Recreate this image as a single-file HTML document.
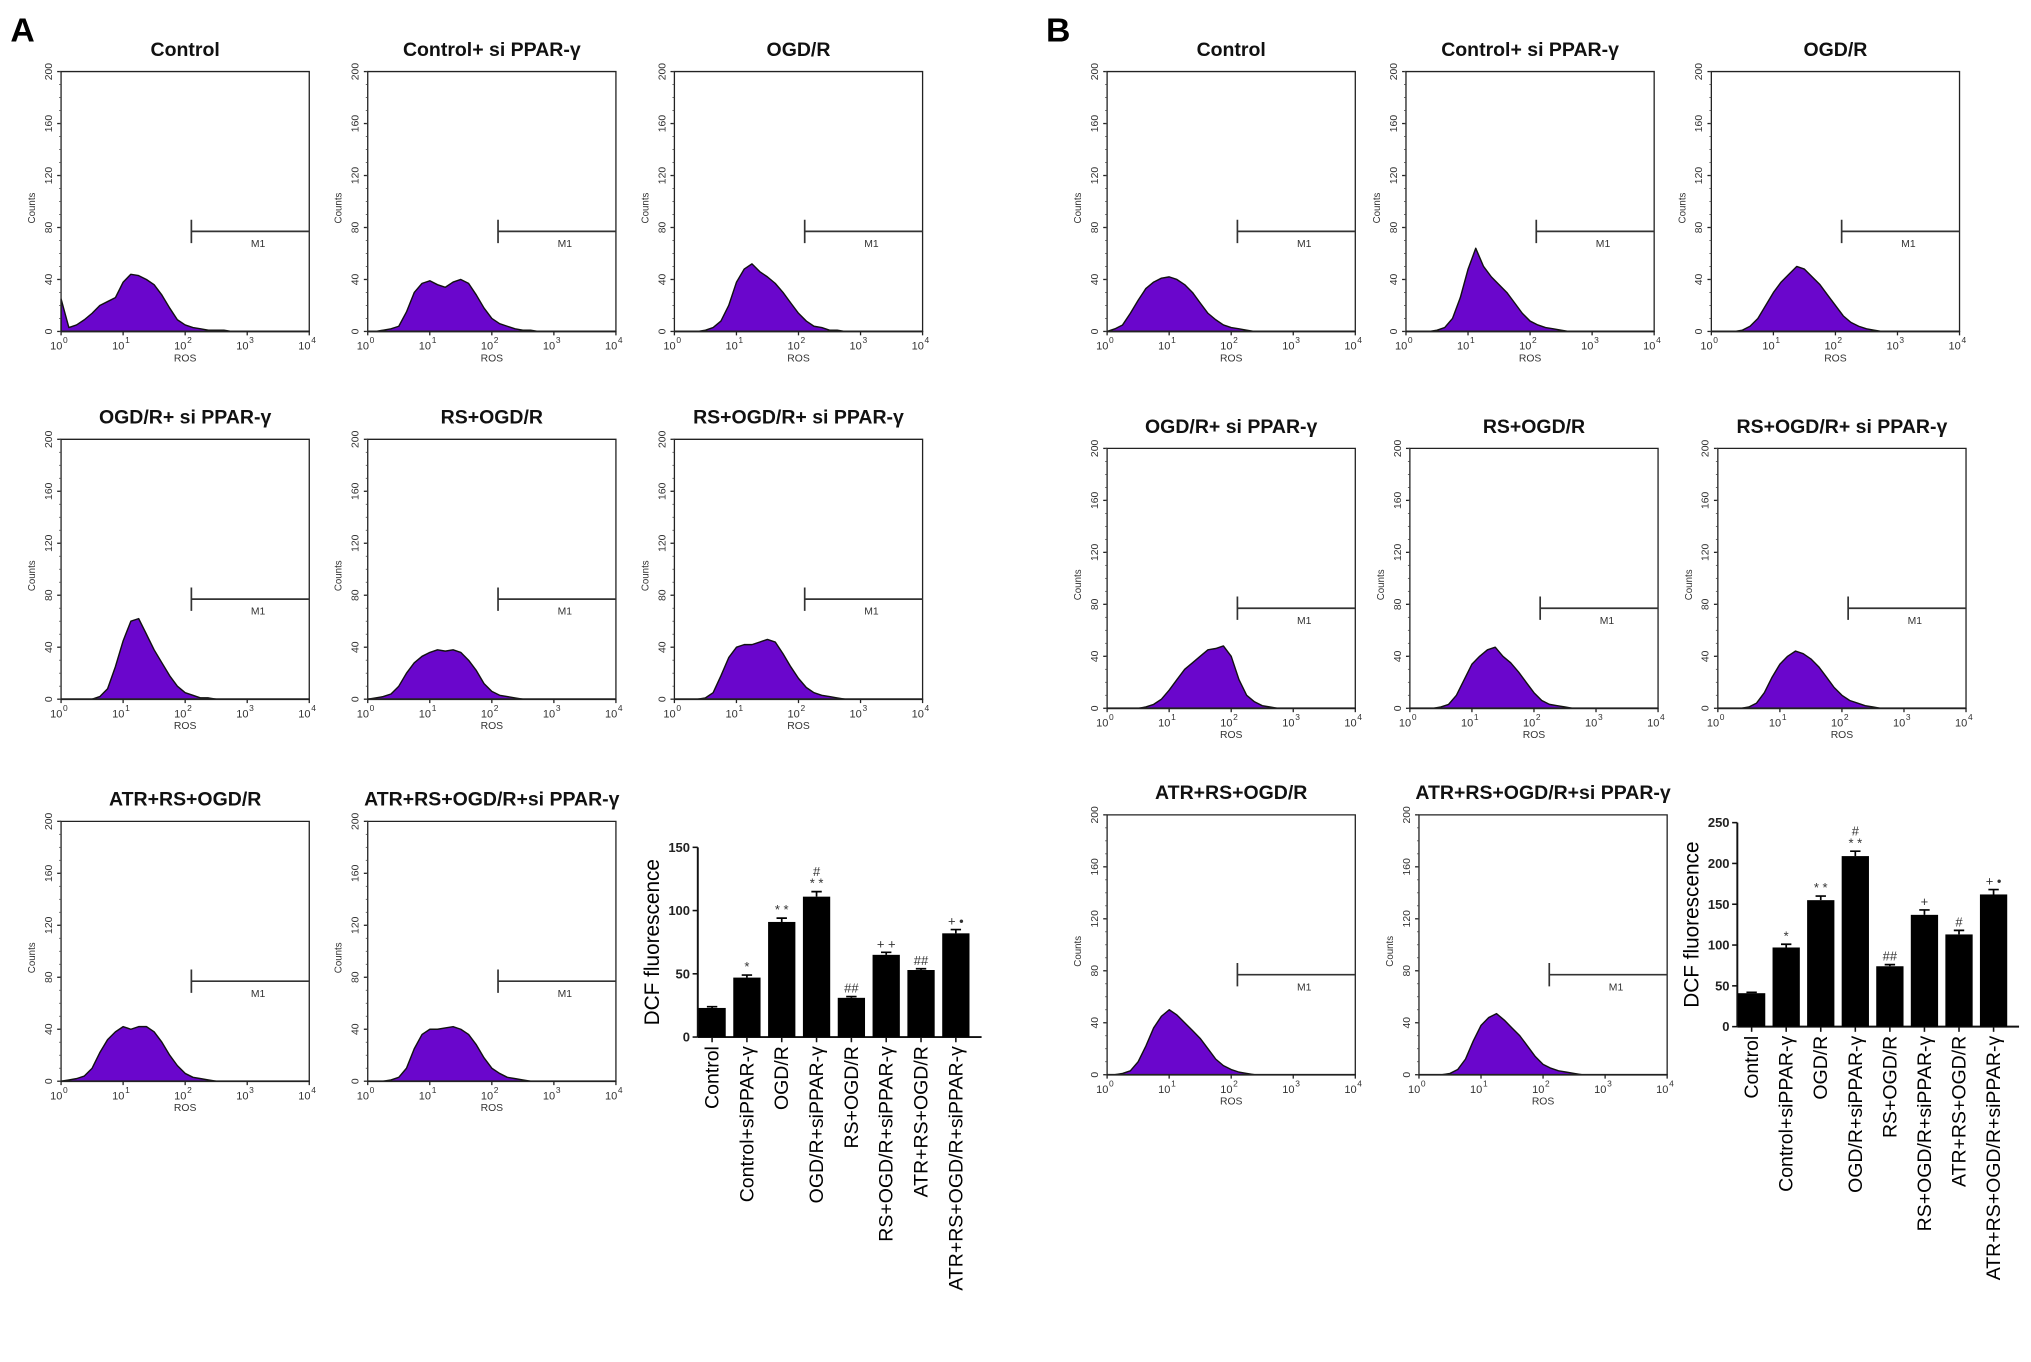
<!DOCTYPE html>
<html><head><meta charset="utf-8"><style>
html,body{margin:0;padding:0;background:#fff}
svg{display:block;font-family:"Liberation Sans",Arial,sans-serif}
</style></head>
<body>
<svg id="fig" width="2031" height="1362" viewBox="0 0 1563 1048" xmlns="http://www.w3.org/2000/svg">
<rect width="1563" height="1048" fill="#fff"/>
<text x="8" y="32" font-size="26" font-weight="bold">A</text>
<text x="805" y="32" font-size="26" font-weight="bold">B</text>
</svg>
<script>
// ---------- histogram data (counts at log10 positions 0,0.125,...,4) ----------
const histTitles = ["Control","Control+ si PPAR-γ","OGD/R","OGD/R+ si PPAR-γ","RS+OGD/R","RS+OGD/R+ si PPAR-γ","ATR+RS+OGD/R","ATR+RS+OGD/R+si  PPAR-γ"];
const histA = [
 [25,3,5,9,14,20,23,26,38,44,43,40,36,28,18,9,5,3,2,1,1,1],
 [0,0,1,2,4,15,30,37,39,36,34,38,40,37,28,18,10,6,4,2,1,1],
 [0,0,0,0,1,3,8,20,38,48,52,46,42,37,30,22,14,8,4,3,1,1],
 [0,0,0,0,0,2,8,25,45,60,62,50,38,28,18,10,5,3,1,1],
 [0,1,2,4,10,20,28,33,36,38,37,38,36,30,22,12,6,3,2,1],
 [0,0,0,0,1,5,18,32,40,42,42,44,46,44,35,25,16,9,5,3,2,1],
 [0,1,2,4,10,22,32,38,42,40,42,42,38,30,20,12,6,3,2,1],
 [0,0,0,1,3,10,25,36,40,40,41,42,40,36,28,18,10,6,3,2,1]
];
const histB = [
 [0,2,5,14,24,33,38,41,42,40,36,30,22,14,9,5,3,2,1],
 [0,0,0,0,1,3,10,26,48,64,50,42,36,30,22,14,8,5,3,2,1],
 [0,0,0,0,1,4,10,20,30,38,44,50,48,42,36,28,20,12,7,4,2,1],
 [0,0,0,0,0,1,3,7,14,22,30,35,40,45,46,48,40,22,10,5,2,1],
 [0,0,0,0,1,3,10,22,34,40,45,47,40,35,28,20,12,6,3,2,1],
 [0,0,0,0,1,4,12,24,34,40,44,42,38,32,24,16,10,6,4,2,1],
 [0,0,1,3,10,22,36,45,50,46,40,34,28,20,12,7,4,2,1],
 [0,0,0,0,1,4,12,26,38,44,47,42,36,30,22,14,8,5,3,2,1]
];
const gateStart = 2.1;   // M1 gate start (log10)
const gateLevel = 77;    // M1 gate height (counts)
const yTicks = [0,40,80,120,160,200];
const xDecades = [0,1,2,3,4];

// ---------- bar chart data ----------
const barCats = ["Control","Control+siPPAR-γ","OGD/R","OGD/R+siPPAR-γ","RS+OGD/R","RS+OGD/R+siPPAR-γ","ATR+RS+OGD/R","ATR+RS+OGD/R+siPPAR-γ"];
const barA = [23,47,91,111,31,65,53,82];
const errA = [1,2,3,4,1,2,1,3];
const sigA = ["","*","* *","* *|#","##","+ +","##","+ •"];
const ticksA = [0,50,100,150];
const barB = [41,97,155,209,74,137,113,162];
const errB = [1,4,5,6,2,6,5,6];
const sigB = ["","*","* *","* *|#","##","+","#","+ •"];
const ticksB = [0,50,100,150,200,250];

const NS = "http://www.w3.org/2000/svg";
const svg = document.getElementById("fig");
function el(tag, attrs, parent, txt){
  const e = document.createElementNS(NS, tag);
  for (const k in attrs) e.setAttribute(k, attrs[k]);
  if (txt !== undefined) e.textContent = txt;
  (parent || svg).appendChild(e);
  return e;
}

const W = 191, H = 200;
const posA = [[47,55],[283,55],[519,55],[47,338],[283,338],[519,338],[47,632],[283,632]];
const posB = [[852,55],[1082,55],[1317,55],[852,345],[1085,345],[1322,345],[852,627],[1092,627]];

function histogram(bx, by, data, title, idx, panel){
  const g = el("g", {});
  
  
  const xs = l => bx + l / 4 * W;
  const ys = c => by + H - c / 200 * H;
  const t = el("text", {x: bx + W/2, y: by - 12, "text-anchor": "middle", "font-size": 15, "font-weight": "bold", fill: "#111"}, g, title);
  
  
  let d = "M" + xs(0) + "," + ys(0);
  for (let i = 0; i <= 32; i++) {
    const v = i < data.length ? data[i] : 0;
    d += " L" + xs(i * 0.125).toFixed(1) + "," + ys(v).toFixed(1);
  }
  d += " L" + xs(4) + "," + ys(0) + " Z";
  const a = el("path", {d: d, fill: "#6a06cc", stroke: "#111", "stroke-width": 1.1, "stroke-linejoin": "round"}, g);
  
  
  const b = el("path", {d: `M${bx},${by+H} L${bx},${by} L${bx+W},${by} L${bx+W},${by+H}`, fill: "none", stroke: "#222", "stroke-width": 1}, g);
  
  
  el("line", {x1: bx, y1: by+H, x2: bx+W, y2: by+H, stroke: "#222", "stroke-width": 1.4}, g);
  yTicks.forEach(v => {
    const y = ys(v);
    el("line", {x1: bx-3, y1: y, x2: bx, y2: y, stroke: "#222"}, g);
    const tl = el("text", {x: bx-7, y: y, "font-size": 8, fill: "#333", "text-anchor": "middle", transform: `rotate(-90 ${bx-7} ${y})`}, g, String(v));
    
    
  });
  for (let v = 0; v <= 200; v += 10) el("line", {x1: bx-1.5, y1: ys(v), x2: bx, y2: ys(v), stroke: "#444", "stroke-width": 0.6}, g);
  const yl = el("text", {x: bx-20, y: by+H-95, "font-size": 7.5, fill: "#333", "text-anchor": "middle", transform: `rotate(-90 ${bx-20} ${by+H-95})`}, g, "Counts");
  
  
  xDecades.forEach(l => {
    const x = xs(l);
    el("line", {x1: x, y1: by+H, x2: x, y2: by+H+3, stroke: "#222"}, g);
    const tx = el("text", {x: x+1, y: by+H+14, "font-size": 8.5, fill: "#333", "text-anchor": "end"}, g, "10");
    
    
    el("text", {x: x+1.5, y: by+H+9, "font-size": 6.5, fill: "#333"}, g, String(l));
  });
  const xl = el("text", {x: xs(2), y: by+H+23, "font-size": 8, fill: "#333", "text-anchor": "middle"}, g, "ROS");
  
  
  const gx = xs(gateStart), gy = ys(gateLevel);
  const gate = el("path", {d: `M${gx},${gy-9} L${gx},${gy+9} M${gx},${gy} L${bx+W},${gy}`, stroke: "#333", "stroke-width": 1.3, fill: "none"}, g);
  
  
  el("text", {x: (gx + bx + W)/2 + 6, y: gy + 12, "font-size": 8, fill: "#333", "text-anchor": "middle"}, g, "M1");
}

posA.forEach((p, i) => histogram(p[0], p[1], histA[i], histTitles[i], i, "a"));
posB.forEach((p, i) => histogram(p[0], p[1], histB[i], histTitles[i], i, "b"));

function barChart(cfg){
  const g = el("g", {});
  
  
  const {x0, y0, yTop, max, vals, errs, sig, ticks, step, bw} = cfg;
  const ys = v => y0 - v / max * (y0 - yTop);
  const xEnd = x0 + step * vals.length + 4;
  el("line", {x1: x0, y1: yTop, x2: x0, y2: y0, stroke: "#111", "stroke-width": 1.5}, g);
  el("line", {x1: x0, y1: y0, x2: xEnd, y2: y0, stroke: "#111", "stroke-width": 1.5}, g);
  ticks.forEach(v => {
    el("line", {x1: x0-4, y1: ys(v), x2: x0, y2: ys(v), stroke: "#111", "stroke-width": 1.2}, g);
    const tl = el("text", {x: x0-6, y: ys(v)+3.5, "font-size": 10, "text-anchor": "end", fill: "#222", "font-weight": "bold"}, g, String(v));
    
    
  });
  const cy = (y0 + yTop)/2;
  const yt = el("text", {x: x0-30, y: cy, "font-size": 16, "text-anchor": "middle", transform: `rotate(-90 ${x0-30} ${cy})`}, g, "DCF fluorescence");
  
  
  vals.forEach((v, i) => {
    const cx = x0 + 11 + step * i;
    const r = el("rect", {x: cx - bw/2, y: ys(v), width: bw, height: y0 - ys(v), fill: "#000"}, g);
    
    
    const ey = ys(v + errs[i]);
    el("path", {d: `M${cx},${ys(v)} L${cx},${ey} M${cx-4},${ey} L${cx+4},${ey}`, stroke: "#000", "stroke-width": 1.3}, g);
    el("line", {x1: cx, y1: y0, x2: cx, y2: y0+4, stroke: "#111", "stroke-width": 1.2}, g);
    const parts = sig[i].split("|");
    parts.forEach((s, k) => {
      const st = el("text", {x: cx, y: ey - 3 - k*9, "font-size": 10, "text-anchor": "middle", fill: "#333"}, g, s);
      
      
    });
    const lx = cx + 5, ly = y0 + 7;
    const lbl = el("text", {x: lx, y: ly, "font-size": 15, "text-anchor": "end", transform: `rotate(-90 ${lx} ${ly})`}, g, barCats[i]);
    
    
  });
}

barChart({name: "bar-chart-a", x0: 537, y0: 798, yTop: 652, max: 150, vals: barA, errs: errA, sig: sigA, ticks: ticksA, step: 26.8, bw: 21});
barChart({name: "bar-chart-b", x0: 1337, y0: 790, yTop: 633, max: 250, vals: barB, errs: errB, sig: sigB, ticks: ticksB, step: 26.6, bw: 21});
</script>
</body></html>
